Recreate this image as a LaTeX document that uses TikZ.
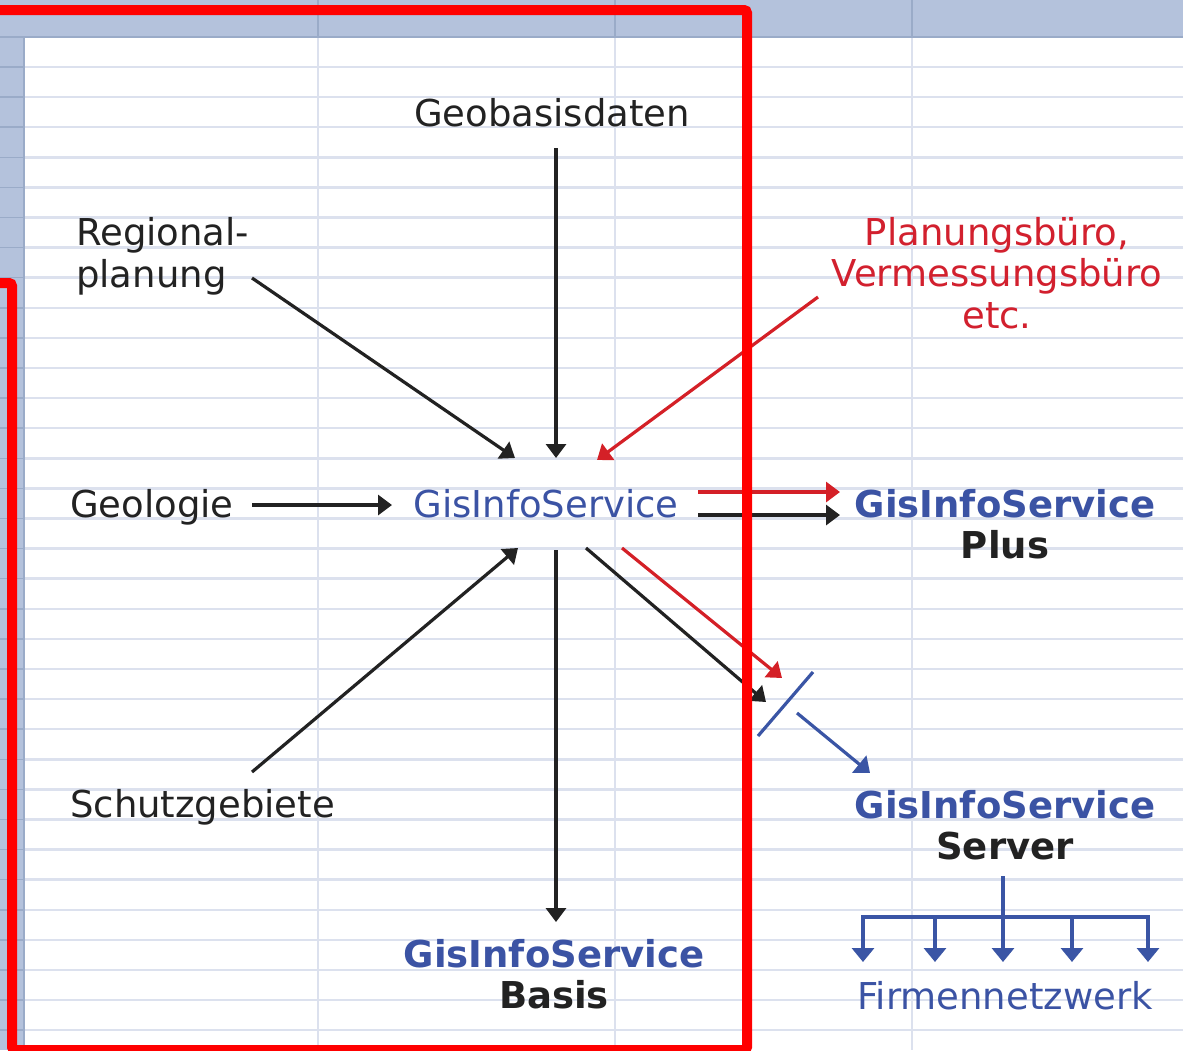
\documentclass[tikz,border=0pt]{standalone}
\usepackage{fontspec}
\setmainfont{DejaVu Sans}
\usetikzlibrary{arrows.meta}
\definecolor{hdr}{HTML}{B4C2DC}
\definecolor{hdrline}{HTML}{9AABC8}
\definecolor{gridl}{HTML}{DCE1EE}
\definecolor{txtblue}{HTML}{3B53A4}
\definecolor{lineblue}{HTML}{3A55A5}
\definecolor{arrred}{HTML}{D42027}
\definecolor{txtred}{HTML}{D2202E}
\definecolor{dark}{HTML}{222222}
\definecolor{framered}{HTML}{FF0000}
\begin{document}
\begin{tikzpicture}[x=1pt,y=-1pt,
  lbl/.style={inner sep=0pt, font=\fontsize{37}{41.5}\selectfont, text=dark},
  blbl/.style={lbl, font=\fontsize{37}{41}\selectfont\bfseries, align=center},
  blk/.style={draw=dark, line width=3.2pt, -{Triangle[length=14pt,width=20pt]}},
  redarr/.style={draw=arrred, line width=3.2pt, -{Triangle[length=14pt,width=20pt]}},
  bluearr/.style={draw=lineblue, line width=3.2pt, -{Triangle[length=14pt,width=22pt]}},
  blueline/.style={draw=lineblue, line width=3.2pt},
  framestyle/.style={draw=framered, line width=10pt, rounded corners=3pt}]
\useasboundingbox (0,0) rectangle (1183,1050);
\fill[white] (0,0) rectangle (1183,1050);
% spreadsheet grid
\foreach \k in {0,...,32} {
  \draw[gridl, line width=2.5pt] (25,{67+30.1*\k}) -- (1183,{67+30.1*\k});
}
\foreach \x in {318,615,912} \draw[gridl, line width=2.5pt] (\x,37) -- (\x,1050);
\fill[hdr] (0,0) rectangle (1183,37);
\fill[hdr] (0,37) rectangle (23,1050);
\foreach \k in {0,...,32} \draw[hdrline, line width=1.5pt] (0,{67+30.1*\k}) -- (23,{67+30.1*\k});
\foreach \x in {318,615,912} \draw[hdrline, line width=2pt] (\x,0) -- (\x,37);
\draw[hdrline, line width=2pt] (0,37) -- (1183,37);
\draw[hdrline, line width=2pt] (24,37) -- (24,1050);

% labels (anchor=base refers to the last line of multi-line nodes)
\node[lbl, anchor=base] (geob) at (552,126) {Geobasisdaten};
\node[lbl, anchor=base west, align=left] (regio) at (76,287) {Regional-\\planung};
\node[lbl, anchor=base, align=center, text=txtred] (planb) at (997,328) {Planungsbüro,\\Vermessungsbüro\\etc.};
\node[lbl, anchor=base west] (geol) at (70,517) {Geologie};
\node[lbl, anchor=base, text=txtblue] (gis) at (546,517) {GisInfoService};
\node[lbl, anchor=base west] (schutz) at (70,817) {Schutzgebiete};
\node[blbl, anchor=base] (plus) at (1005,558) {\textcolor{txtblue}{GisInfoService}\\Plus};
\node[blbl, anchor=base] (server) at (1005,859) {\textcolor{txtblue}{GisInfoService}\\Server};
\node[blbl, anchor=base] (basis) at (554,1008) {\textcolor{txtblue}{GisInfoService}\\Basis};
\node[lbl, anchor=base, text=txtblue] (firm) at (1005,1009) {Firmennetzwerk};

% connector end points
\coordinate (geobS) at (556,148);
\coordinate (gisN) at (556,458);
\coordinate (regioE) at (252,278);
\coordinate (gisNW) at (515,458);
\coordinate (planbW) at (818,297);
\coordinate (gisNE) at (597,460);
\coordinate (geolE) at (252,505);
\coordinate (gisW) at (392,505);
\coordinate (schutzE) at (252,772);
\coordinate (gisSW) at (518,548);
\coordinate (gisS) at (556,550);
\coordinate (basisN) at (556,922);
\coordinate (gisEa) at (698,492);
\coordinate (plusWa) at (840,492);
\coordinate (gisEb) at (698,515);
\coordinate (plusWb) at (840,515);
\coordinate (gisSE) at (586,548);
\coordinate (cutA) at (766,702);
\coordinate (gisSEr) at (622,548);
\coordinate (cutB) at (782,678);
\coordinate (slashA) at (758,736);
\coordinate (slashB) at (813,672);
\coordinate (cutOut) at (797,713);
\coordinate (serverNW) at (870,773);
\coordinate (serverS) at (1003,876);
\coordinate (busC) at (1003,917);
\coordinate (busL) at (863,917);
\coordinate (busR) at (1148,917);

% connectors
\draw[blk] (geobS) -- (gisN);
\draw[blk] (regioE) -- (gisNW);
\draw[redarr] (planbW) -- (gisNE);
\draw[blk] (geolE) -- (gisW);
\draw[blk] (schutzE) -- (gisSW);
\draw[blk] (gisS) -- (basisN);
\draw[redarr] (gisEa) -- (plusWa);
\draw[blk] (gisEb) -- (plusWb);
\draw[blk] (gisSE) -- (cutA);
\draw[redarr] (gisSEr) -- (cutB);
\draw[blueline] (slashA) -- (slashB);
\draw[bluearr] (cutOut) -- (serverNW);
\draw[blueline] (serverS) -- (busC);
\draw[blueline, line cap=rect] (busL) -- (busR);
\foreach \x/\n in {863/a,935/b,1003/c,1072/d,1148/e} {
  \coordinate (bus\n) at (\x,917);
  \coordinate (firm\n) at (\x,962);
  \draw[bluearr] (bus\n) -- (firm\n);
}

% red frame
\draw[framestyle] (0,283) -- (12,283) -- (12,1050) -- (747,1050) -- (747,10) -- (0,10);
\end{tikzpicture}
\end{document}
